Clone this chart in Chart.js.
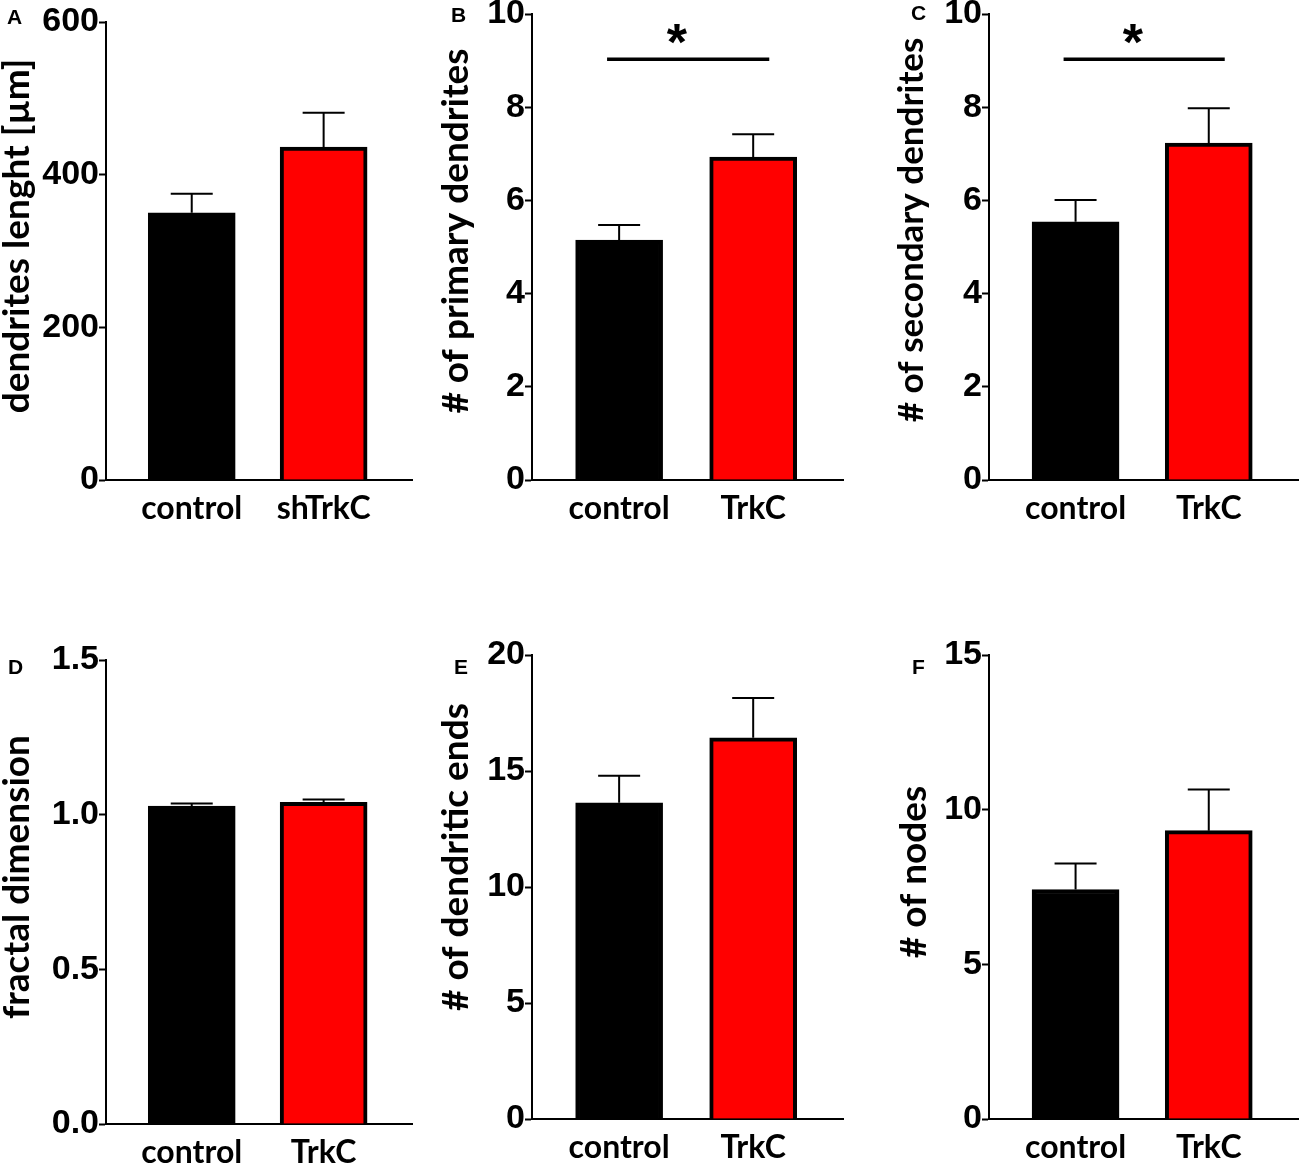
<!DOCTYPE html>
<html>
<head>
<meta charset="utf-8">
<script src="https://cdn.jsdelivr.net/npm/chart.js@4.4.1/dist/chart.umd.min.js"></script>
<style>
    html, body { margin: 0; padding: 0; background: #fff; width: 1300px; height: 1165px; overflow: hidden; position: relative; }
    canvas { position: absolute; }
    .tag { position: absolute; font: bold 21px "Liberation Sans", Arial, sans-serif; color: #000; }
</style>
</head>
<body>
<canvas id="panelA"></canvas>
<canvas id="panelB"></canvas>
<canvas id="panelC"></canvas>
<canvas id="panelD"></canvas>
<canvas id="panelE"></canvas>
<canvas id="panelF"></canvas>
<div class="tag" style="left:7px;top:5px">A</div>
<div class="tag" style="left:451px;top:3px">B</div>
<div class="tag" style="left:911px;top:1px">C</div>
<div class="tag" style="left:8px;top:655px">D</div>
<div class="tag" style="left:454px;top:655px">E</div>
<div class="tag" style="left:912px;top:655px">F</div>
<script>
const groupsKnockdown = ['control', 'shTrkC'];
const groupsOverexp = ['control', 'TrkC'];

// mean and SEM per group
const lengthMean = [350, 436];
const lengthSem = [25, 45];
const primaryMean = [5.15, 6.93];
const primarySem = [0.32, 0.49];
const secondaryMean = [5.54, 7.23];
const secondarySem = [0.47, 0.75];
const fractalMean = [1.028, 1.040];
const fractalSem = [0.008, 0.009];
const endsMean = [13.63, 16.43];
const endsSem = [1.17, 1.72];
const nodesMean = [7.42, 9.32];
const nodesSem = [0.84, 1.33];

const lengthTicks = [0, 200, 400, 600];
const countTicks = [0, 2, 4, 6, 8, 10];
const fractalTicks = [0, 0.5, 1.0, 1.5];
const endsTicks = [0, 5, 10, 15, 20];
const nodesTicks = [0, 5, 10, 15];

// significance bracket: span in group units, level in y units
const bracketSpan = [0.91, 2.12];
const bracketLevel = 9.03;
const starX = 1.43;
const starLevel = 9.02;

const barColors = ['#000000', '#ff0000'];

function whiskers(mean, sem) {
    return {
        id: 'whiskers',
        afterDatasetsDraw(chart) {
            const ctx = chart.ctx;
            const y = chart.scales.y;
            chart.getDatasetMeta(0).data.forEach((bar, i) => {
                const top = y.getPixelForValue(mean[i] + sem[i]);
                ctx.save();
                ctx.strokeStyle = '#000';
                ctx.lineWidth = 2;
                ctx.beginPath();
                ctx.moveTo(bar.x, bar.y);
                ctx.lineTo(bar.x, top);
                ctx.moveTo(bar.x - 21, top);
                ctx.lineTo(bar.x + 21, top);
                ctx.stroke();
                ctx.restore();
            });
        }
    };
}

function bracket() {
    return {
        id: 'bracket',
        afterDatasetsDraw(chart) {
            const { ctx, scales: { x, y } } = chart;
            const ly = y.getPixelForValue(bracketLevel);
            ctx.save();
            ctx.strokeStyle = '#000';
            ctx.lineWidth = 3.5;
            ctx.beginPath();
            ctx.moveTo(x.getPixelForValue(bracketSpan[0]), ly);
            ctx.lineTo(x.getPixelForValue(bracketSpan[1]), ly);
            ctx.stroke();
            ctx.fillStyle = '#000';
            ctx.font = 'bold 52px "Liberation Sans", Arial, sans-serif';
            ctx.textAlign = 'center';
            ctx.textBaseline = 'alphabetic';
            ctx.fillText('*', x.getPixelForValue(starX), y.getPixelForValue(starLevel));
            ctx.restore();
        }
    };
}

// y title drawn by hand so it can sit a little above the axis middle, like the original
function sideTitle(text, cx, cy, size) {
    return {
        id: 'sideTitle',
        afterDraw(chart) {
            const ctx = chart.ctx;
            ctx.save();
            ctx.translate(cx, cy);
            ctx.rotate(-Math.PI / 2);
            ctx.fillStyle = '#000';
            ctx.font = 'bold ' + size + 'px Lato, "Open Sans", sans-serif';
            ctx.textAlign = 'center';
            ctx.textBaseline = 'middle';
            ctx.fillText(text, 0, 0);
            ctx.restore();
        }
    };
}

function makePanel(id, box, cats, mean, sem, yTicks, yTitle, titleAt, decimals, withBracket) {
    const cv = document.getElementById(id);
    const top = box.axisTop - 40;
    cv.style.left = box.left + 'px';
    cv.style.top = top + 'px';
    cv.width = box.right - box.left + 4;
    cv.height = box.axisBottom + 60 - top;

    const plugins = [
        whiskers(mean, sem),
        sideTitle(yTitle, titleAt[0] - box.left, titleAt[1] - top, titleAt[2] || 37)
    ];
    if (withBracket) plugins.push(bracket());

    new Chart(cv, {
        type: 'bar',
        data: {
            datasets: [{
                data: mean.map((m, i) => ({ x: i + 1, y: m })),
                backgroundColor: barColors,
                borderColor: '#000',
                borderWidth: 4,
                barThickness: 87
            }]
        },
        options: {
            responsive: false,
            animation: false,
            events: [],
            layout: { padding: { top: 40, right: 4, left: 0, bottom: 0 } },
            plugins: { legend: { display: false }, tooltip: { enabled: false } },
            scales: {
                x: {
                    type: 'linear',
                    min: 0.35,
                    max: 2.67,
                    offset: false,
                    afterBuildTicks: (s) => { s.ticks = cats.map((c, i) => ({ value: i + 1 })); },
                    afterFit: (s) => { s.height = 60; },
                    ticks: {
                        callback: (v, i) => cats[i],
                        font: { family: 'Lato', weight: 'bold', size: 32 },
                        color: '#000',
                        padding: 9,
                        maxRotation: 0,
                        autoSkip: false
                    },
                    grid: { display: true, drawOnChartArea: false, drawTicks: false },
                    border: { display: true, color: '#000', width: 2 }
                },
                y: {
                    min: yTicks[0],
                    max: yTicks[yTicks.length - 1],
                    afterBuildTicks: (s) => { s.ticks = yTicks.map((v) => ({ value: v })); },
                    afterFit: (s) => { s.width = box.axisX - box.left; },
                    ticks: {
                        callback: (v) => v.toFixed(decimals),
                        font: { family: 'Liberation Sans', weight: 'bold', size: 34, lineHeight: 1 },
                        color: '#000',
                        padding: 0
                    },
                    grid: { drawOnChartArea: false, drawTicks: true, tickLength: 7, tickWidth: 2, tickColor: '#000', color: '#000' },
                    border: { display: true, color: '#000', width: 2 }
                }
            }
        },
        plugins: plugins
    });
}

makePanel('panelA', { left: 0, axisX: 106, axisTop: 22, axisBottom: 480, right: 412 },
    groupsKnockdown, lengthMean, lengthSem, lengthTicks, 'dendrites lenght [\u00b5m]', [17, 236], 0, false);
makePanel('panelB', { left: 430, axisX: 532, axisTop: 14, axisBottom: 480, right: 843 },
    groupsOverexp, primaryMean, primarySem, countTicks, '# of primary dendrites', [456, 231], 0, true);
makePanel('panelC', { left: 880, axisX: 989, axisTop: 14, axisBottom: 480, right: 1298 },
    groupsOverexp, secondaryMean, secondarySem, countTicks, '# of secondary dendrites', [912, 230, 35], 0, true);
makePanel('panelD', { left: 0, axisX: 106, axisTop: 660, axisBottom: 1124, right: 412 },
    groupsOverexp, fractalMean, fractalSem, fractalTicks, 'fractal dimension', [17, 877], 1, false);
makePanel('panelE', { left: 430, axisX: 532, axisTop: 655, axisBottom: 1119, right: 843 },
    groupsOverexp, endsMean, endsSem, endsTicks, '# of dendritic ends', [456, 857], 0, false);
makePanel('panelF', { left: 880, axisX: 989, axisTop: 655, axisBottom: 1119, right: 1298 },
    groupsOverexp, nodesMean, nodesSem, nodesTicks, '# of nodes', [914, 872], 0, false);
</script>
</body>
</html>
